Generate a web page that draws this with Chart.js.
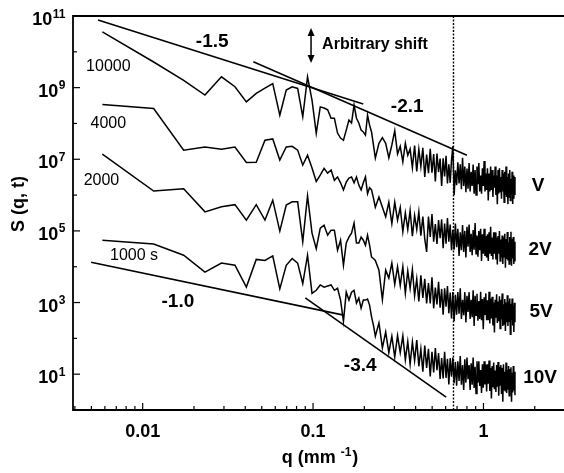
<!DOCTYPE html>
<html><head><meta charset="utf-8">
<script src="https://cdn.jsdelivr.net/npm/chart.js@4.4.1/dist/chart.umd.min.js"></script>
<style>html,body{margin:0;padding:0;background:#fff;}#wrap{width:564px;height:473px;}</style>
</head><body><div id="wrap"><canvas id="c" width="564" height="473"></canvas></div>
<script>
// q grid (mm^-1)
const q = [
0.0058,0.0116,0.0174,0.0232,0.029,0.0348,0.0406,0.0464,0.0522,0.058,
0.0638,0.0696,0.0754,0.0812,0.087,0.0928,0.0986,0.1044,0.1102,0.116,
0.1218,0.1276,0.1334,0.1392,0.145,0.1508,0.1566,0.1624,0.1682,0.174,
0.1798,0.1856,0.1914,0.1972,0.203,0.2088,0.2146,0.2204,0.2262,0.232,
0.2436,0.2552,0.2668,0.2784,0.29,0.3016,0.3132,0.3248,0.3364,0.348,
0.3596,0.3712,0.3828,0.3944,0.406,0.4176,0.4292,0.4408,0.4524,0.464,
0.4756,0.4872,0.4988,0.5104,0.522,0.5336,0.5452,0.5568,0.5684,0.58,
0.5916,0.6032,0.6148,0.6264,0.638,0.6496,0.6612,0.6728,0.6844,0.696,
0.7076,0.7192,0.7308,0.7424,0.754,0.7656,0.7772,0.7888,0.8004,0.812,
0.8236,0.8352,0.8468,0.8584,0.87,0.8816,0.8932,0.9048,0.9164,0.928,
0.9396,0.9512,0.9628,0.9744,0.986,0.9976,1.0092,1.0208,1.0324,1.044,
1.0556,1.0672,1.0788,1.0904,1.102,1.1136,1.1252,1.1368,1.1484,1.16,
1.1716,1.1832,1.1948,1.2064,1.218,1.2296,1.2412,1.2528,1.2644,1.276,
1.2876,1.2992,1.3108,1.3224,1.334,1.3456,1.3572,1.3688,1.3804,1.392,
1.4036,1.4152,1.4268,1.4384,1.45,1.4616,1.4732,1.4848,1.4964,1.508,
1.5196,1.5312];

// S(q,t), shifted curves
const s10000 = [
3.6e10,5.2e9,1.6e9,6.2e8,2.0e9,1.06e9,4.0e8,6.9e8,9.7e8,1.3e9,
1.7e8,8.6e8,1.06e9,9.5e8,1.54e8,2.0e9,4.5e8,5.3e7,2.9e8,2.7e8,
2.4e8,1.4e8,1.4e8,5.4e7,3.9e7,3.4e7,6.5e7,1.24e8,1.03e8,3.3e8,
1.4e8,1.03e8,6.5e7,5.8e7,4.7e7,1.7e8,9e7,5.8e7,2.5e7,1.08e7,
2.8e7,4e7,2.8e7,1.1e7,2.5e7,6.3e7,1.4e7,2.3e7,8.5e6,2.8e7,
1.3e7,1.95e7,5.8e6,2.4e7,4.6e6,1.9e7,6.3e6,2.1e7,3.2e6,1.35e7,
4.1e6,1.95e7,4.2e6,1.4e7,2.4e6,1.45e7,4.4e6,1.05e7,1.8e6,1.07e7,
3.3e6,1.26e7,2.1e6,7.2e6,2.2e6,9.5e6,2.3e7,1e6,4.9e6,1.9e6,
8.3e6,2.1e6,7.2e6,1.45e6,1.1e7,1.8e6,6.3e6,1.2e6,5.5e6,1.5e6,
7.9e6,1.26e6,4.5e6,1.8e6,7.1e6,1.1e6,5e6,1e6,6.3e6,2e6,
7.9e6,1.26e6,3.5e6,1.1e6,5.6e6,1.8e6,8.9e6,1.26e6,4e6,1.4e6,
5.6e6,7.1e5,4e6,1.26e6,6.3e6,1.4e6,5e6,8.9e5,3.5e6,1.6e6,
6.3e6,1e6,3.5e6,5.6e5,5e6,1.1e6,5.6e6,1.26e6,3.2e6,7.9e5,
5e6,1.26e6,4e6,6.3e5,4.5e6,1e6,6.3e6,8.9e5,3.2e6,5.6e5,
4e6,8.9e5,5e6,7.1e5,2.8e6,1e6,4.5e6,5.6e5,3.5e6,7.9e5,
3.2e6,1e6];
const s4000 = [
3.4e8,2.6e8,1.8e7,2.2e7,1.9e7,2.2e7,8.1e6,8.2e6,3.4e7,3.7e7,
9.5e6,2.2e7,2.3e7,1.8e7,6.9e6,1.3e7,5.7e6,2.4e6,3.6e6,5.6e6,
4.1e6,5e6,2.6e6,3.2e6,2.2e6,1.4e6,2.3e6,3e6,3.2e6,2.2e6,
3.2e6,1.9e6,1.4e6,2.2e6,3.2e6,1.1e6,1.6e6,1.4e6,8.2e5,4.6e5,
8.8e5,4.6e5,2.5e5,6.3e5,1.6e5,6.3e5,2e5,4.5e5,9.5e4,3.2e5,
1.1e5,3.7e5,7.1e4,2.7e5,1.1e5,3.4e5,7.4e4,2.5e5,6e4,2.6e4,
2.5e5,6.8e4,2.95e5,5e4,1.55e5,4.3e4,2e5,6.3e4,2.1e5,3.3e4,
1.6e5,4.4e4,2.3e5,5e4,1.5e5,2.9e4,1.07e5,3e4,1.6e5,3.5e4,
1.15e5,2e4,9.1e4,2.9e4,1.45e5,2.6e4,1e5,1.8e4,1.3e5,3.6e4,
1.5e5,2.6e4,8.3e4,2.1e4,1.05e5,3e4,1.65e5,2.3e4,7.4e4,1.9e4,
1e5,2.9e4,1.15e5,1.45e4,8.1e4,2.3e4,1.15e5,2e4,7.2e4,1.8e4,
8.1e4,1.45e4,9.1e4,2.3e4,1.3e5,2e4,6.5e4,1.6e4,9.1e4,2.3e4,
9.1e4,1.6e4,6.5e4,1.15e4,7.2e4,2.3e4,1e5,1.45e4,5.8e4,1.8e4,
7.4e4,1.2e4,6.6e4,1.9e4,8.3e4,9.3e3,5.9e4,1.65e4,9.3e4,1.5e4,
4.8e4,1.2e4,6.8e4,1.5e4,9.5e4,1.07e4,6e4,1.7e4,6.8e4,1.2e4,
5e4,1.4e4];
const s2000 = [
1.4e7,1.3e6,1.5e6,3.4e5,4.7e5,5.4e5,2e5,5.4e5,2e5,7.2e5,
9.9e4,5.3e5,6.5e5,6.5e5,5e4,9.5e5,8.7e4,3.2e4,1.2e5,1.45e5,
7.6e4,1.05e5,1.05e5,2.9e4,5.5e4,1.1e4,4.6e4,6.7e4,8.7e4,1.65e5,
4.6e4,4.6e4,6.7e4,5.5e4,4e4,7.6e4,4e4,1.85e4,1.7e4,1.5e4,
8e3,1.2e3,8e3,4.8e3,1.26e4,3.2e3,1e4,3e3,1e4,1.8e3,
7.6e3,2.5e3,8.3e3,1.55e3,4.6e3,1.07e3,5.8e3,1.35e3,4.6e3,9.5e2,
3.5e3,9.5e2,5.1e3,6.9e2,2.6e3,8.9e2,3.8e3,7.2e2,2.4e3,4.6e2,
2.5e3,7.6e2,2.9e3,5e2,1.9e3,3.6e2,1.95e3,3e2,1.65e3,4.6e2,
1.95e3,4.9e2,2.5e3,3.5e2,1.2e3,4.4e2,1.95e3,2.8e2,1.55e3,5.5e2,
1.95e3,3.5e2,1.2e3,3.9e2,2.2e3,2.2e2,1.55e3,4.4e2,1.75e3,3.1e2,
1.1e3,3.5e2,2e3,3.2e2,1.26e3,1.8e2,1.4e3,4.5e2,1.8e3,3.2e2,
1.15e3,3.2e2,2e3,2.6e2,1.3e3,3.6e2,1.45e3,2.3e2,1e3,1.45e2,
1.2e3,3.8e2,1.7e3,2.7e2,1.07e3,3e2,1.5e3,1.9e2,1.2e3,3.4e2,
1.8e3,2.2e2,8.9e2,2.5e2,1.26e3,1.6e2,1e3,2.8e2,1.6e3,2.2e2,
1.05e3,3e2,1.3e3,1.3e2,9.3e2,3.3e2,1.3e3,2.3e2,8.3e2,1.5e2,
9.8e2,2.8e2];
const s1000 = [
5.5e4,4.3e4,2.1e4,7.1e3,1.26e4,1.1e4,2.7e3,1.6e4,1.5e4,2e4,
2.4e3,1.1e4,1.7e4,1.26e4,3.4e3,2.1e4,1.8e3,2.2e3,3.1e3,2.7e3,
2.9e3,3.1e3,2.2e3,2.5e3,1.17e3,3e2,1.95e3,1.17e3,1.95e3,2.2e3,
9.6e2,1.33e3,7e2,1.17e3,1.17e3,1.25e3,8.5e2,4e2,2.3e2,1.15e2,
2.7e2,54,1.5e2,40,115,30,120,40,117,25,
81,19,79,24,89,16.6,50,11.7,63,15,
51,8.7,42,11.2,54,12.9,39,7.4,28,7.6,
42,7.9,27,5.2,28,8.5,29,5.6,22,4.8,
23,6.5,32,5.1,18,3.6,26,5.8,29,7.2,
18,3.6,20,5.1,29,4.1,16,2.9,23,5.8,
23,4.7,13,3,19,4.2,23,5.2,19,3.3,
19,5.4,24,3.4,15,2.1,17,4.3,21,3.8,
12.6,3.2,18,4.5,22,2.5,16,5,18,2.8,
15,1.7,19,3.7,11.7,3.3,21,3,13,3.7,
17,2.5,14,3.9,15.5,1.7,11,3.1,17,3.5,
11.7,2.6];

// power-law guide lines (end points)
const slopeM15Q = [0.00547, 0.197], slopeM15S = [7.7e10, 3.5e8];
const slopeM21Q = [0.0446, 0.80],   slopeM21S = [5.3e9, 1.3e7];
const slopeM10Q = [0.00498, 0.151], slopeM10S = [1.34e4, 445];
const slopeM34Q = [0.090, 0.604],   slopeM34S = [1350, 2.3];
const cutoffQ = [0.667, 0.667], cutoffS = [1, 1e11];

// axis ticks
const xTickValues = [0.01, 0.1, 1];
const xTickLabels = ['0.01', '0.1', '1'];
const yTickExponents = [1, 3, 5, 7, 9, 11];

// text labels
const timeLabels = ['10000', '4000', '2000', '1000 s'];
const shiftLabels = ['V', '2V', '5V', '10V'];
const slopeLabels = ['-1.5', '-2.1', '-1.0', '-3.4'];

const FONT = '"Liberation Sans", Arial, Helvetica, sans-serif';
const pts = (xs, ys) => xs.map((x, i) => ({x: x, y: ys[i]}));
const curve = (ys) => ({data: pts(q, ys), borderColor: '#000', borderWidth: 1.5, pointRadius: 0, showLine: true, tension: 0, fill: false});
const guide = (xs, ys) => ({data: pts(xs, ys), borderColor: '#000', borderWidth: 1.6, pointRadius: 0, showLine: true, fill: false});

const annot = {
  id: 'annot',
  afterDatasetsDraw(chart) {
    const {ctx, chartArea: a, scales: {x, y}} = chart;
    const X = v => x.getPixelForValue(v), Y = v => y.getPixelForValue(v);
    ctx.save();
    ctx.strokeStyle = '#000'; ctx.fillStyle = '#000';
    // frame
    ctx.lineWidth = 1.8;
    ctx.beginPath();
    ctx.moveTo(a.right + 2, a.top); ctx.lineTo(a.left, a.top);
    ctx.lineTo(a.left, a.bottom); ctx.lineTo(a.right + 2, a.bottom);
    ctx.stroke();
    // x ticks (inward)
    ctx.lineWidth = 1.2;
    for (let d = -3; d <= 0; d++) for (let m = 1; m <= 9; m++) {
      const v = m * Math.pow(10, d);
      if (v <= x.min * 1.02 || v >= x.max) continue;
      const px = X(v), len = m === 1 ? 7 : 4;
      ctx.beginPath(); ctx.moveTo(px, a.bottom); ctx.lineTo(px, a.bottom - len); ctx.stroke();
    }
    // y ticks (inward)
    for (let e = 1; e <= 10; e++) {
      const py = Y(Math.pow(10, e)), len = (e % 2) ? 7 : 4;
      ctx.beginPath(); ctx.moveTo(a.left, py); ctx.lineTo(a.left + len, py); ctx.stroke();
    }
    // y tick labels
    yTickExponents.forEach(e => {
      const py = Y(Math.pow(10, e));
      ctx.font = 'bold 12px ' + FONT;
      const sw = ctx.measureText(String(e)).width;
      const edge = 65 - sw;
      ctx.textAlign = 'left'; ctx.textBaseline = 'alphabetic';
      ctx.fillText(String(e), edge + 0.5, py + 1.5);
      ctx.font = 'bold 18px ' + FONT;
      ctx.textAlign = 'right';
      ctx.fillText('10', edge, py + 9);
    });
    // x tick labels
    ctx.font = 'bold 18px ' + FONT;
    ctx.textAlign = 'center'; ctx.textBaseline = 'middle';
    xTickValues.forEach((v, i) => ctx.fillText(xTickLabels[i], X(v), 432));
    // x title  q (mm -1)
    {
      const p1 = 'q (mm ', p2 = '-1', p3 = ')';
      ctx.font = 'bold 18px ' + FONT; const w1 = ctx.measureText(p1).width, w3 = ctx.measureText(p3).width;
      ctx.font = 'bold 12px ' + FONT; const w2 = ctx.measureText(p2).width;
      let sx = (a.left + a.right) / 2 + 1 - (w1 + w2 + w3) / 2;
      const base = 463;
      ctx.textAlign = 'left'; ctx.textBaseline = 'alphabetic';
      ctx.font = 'bold 18px ' + FONT; ctx.fillText(p1, sx, base);
      ctx.font = 'bold 12px ' + FONT; ctx.fillText(p2, sx + w1, base - 7);
      ctx.font = 'bold 18px ' + FONT; ctx.fillText(p3, sx + w1 + w2 + 1, base);
    }
    // y title
    ctx.save();
    ctx.translate(19, 204); ctx.rotate(-Math.PI / 2);
    ctx.font = 'bold 18px ' + FONT; ctx.textAlign = 'center'; ctx.textBaseline = 'middle';
    ctx.fillText('S (q, t)', 0, 0);
    ctx.restore();
    // time labels
    ctx.font = '16px ' + FONT; ctx.textAlign = 'center'; ctx.textBaseline = 'middle';
    const tPos = [[0.00629, 3.8e9], [0.00629, 9.6e7], [0.00573, 2.5e6], [0.0089, 2.0e4]];
    timeLabels.forEach((t, i) => ctx.fillText(t, X(tPos[i][0]), Y(tPos[i][1])));
    // shift labels
    ctx.font = 'bold 19px ' + FONT;
    const sPos = [[2.09, 1.8e6], [2.15, 2.9e4], [2.18, 540], [2.15, 8.2]];
    shiftLabels.forEach((t, i) => ctx.fillText(t, X(sPos[i][0]), Y(sPos[i][1])));
    // slope labels
    const kPos = [[0.0256, 1.88e10], [0.357, 2.9e8], [0.0161, 1.03e3], [0.189, 16.7]];
    slopeLabels.forEach((t, i) => ctx.fillText(t, X(kPos[i][0]), Y(kPos[i][1])));
    // arbitrary shift arrow + text
    const ax = X(0.0973), ay1 = Y(4.6e10), ay2 = Y(4.9e9);
    ctx.lineWidth = 1.5;
    ctx.beginPath(); ctx.moveTo(ax, ay1 + 5); ctx.lineTo(ax, ay2 - 5); ctx.stroke();
    ctx.beginPath(); ctx.moveTo(ax, ay1); ctx.lineTo(ax - 3.5, ay1 + 8); ctx.lineTo(ax + 3.5, ay1 + 8); ctx.closePath(); ctx.fill();
    ctx.beginPath(); ctx.moveTo(ax, ay2); ctx.lineTo(ax - 3.5, ay2 - 8); ctx.lineTo(ax + 3.5, ay2 - 8); ctx.closePath(); ctx.fill();
    ctx.font = 'bold 16px ' + FONT; ctx.textAlign = 'left'; ctx.textBaseline = 'middle';
    ctx.fillText('Arbitrary shift', X(0.113), Y(1.55e10));
    ctx.restore();
  }
};

new Chart(document.getElementById('c'), {
  type: 'scatter',
  data: {
    datasets: [
      curve(s10000), curve(s4000), curve(s2000), curve(s1000),
      guide(slopeM15Q, slopeM15S), guide(slopeM21Q, slopeM21S),
      guide(slopeM10Q, slopeM10S), guide(slopeM34Q, slopeM34S),
      {data: pts(cutoffQ, cutoffS), borderColor: '#000', borderWidth: 1.4, borderDash: [2, 1.5], pointRadius: 0, showLine: true, fill: false}
    ]
  },
  options: {
    responsive: false,
    animation: false,
    events: [],
    layout: {padding: {left: 73, top: 16, right: 0, bottom: 63}},
    scales: {
      x: {type: 'logarithmic', min: 0.0039, max: 2.97, display: false},
      y: {type: 'logarithmic', min: 1, max: 1e11, display: false}
    },
    plugins: {legend: {display: false}, tooltip: {enabled: false}}
  },
  plugins: [annot]
});
</script>
</body></html>
